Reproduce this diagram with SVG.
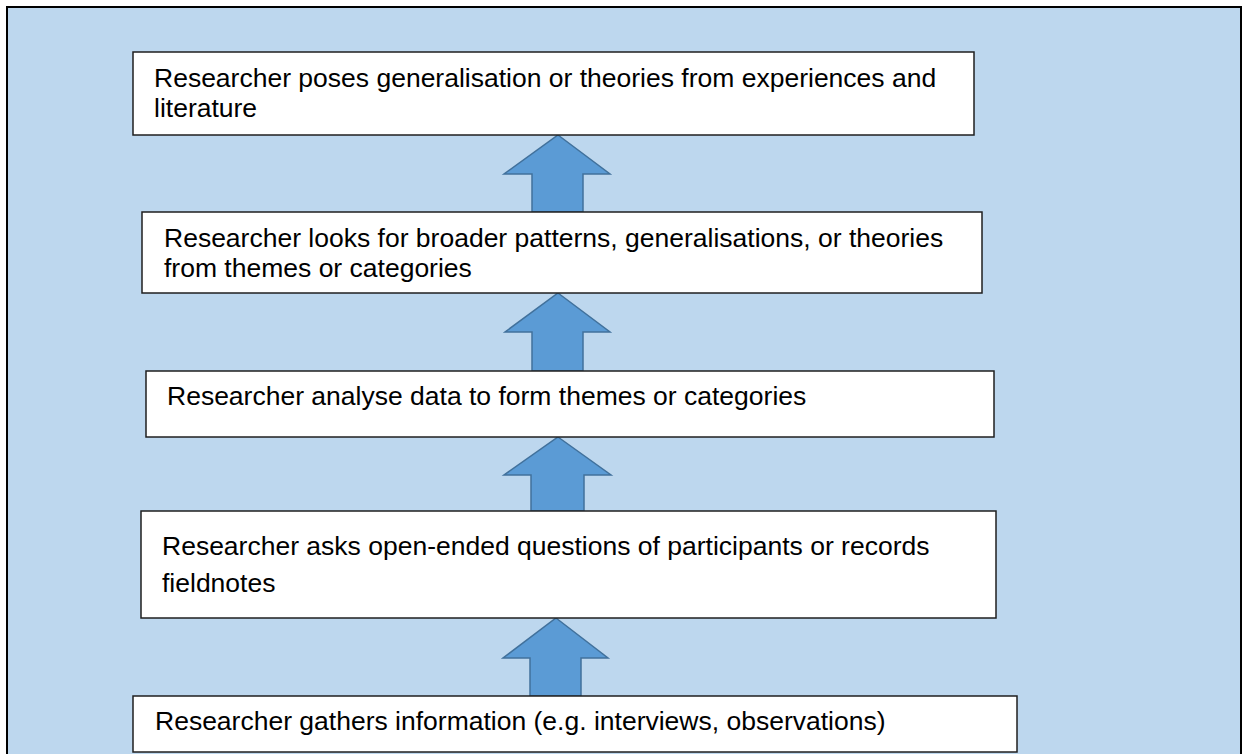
<svg xmlns="http://www.w3.org/2000/svg" width="1242" height="754" viewBox="0 0 1242 754">
<style>
.box{fill:#ffffff;stroke:#1f1f1f;stroke-width:1.5}
.arr{fill:#5B9BD5;stroke:#41719C;stroke-width:1.5;stroke-linejoin:miter}
.t{font-family:"Liberation Sans",Arial,sans-serif;font-size:26.5px;fill:#000}
</style>
<rect x="0" y="0" width="1242" height="754" fill="#ffffff"/>
<rect id="frame" x="7" y="7" width="1234" height="760" fill="#BDD7EE" stroke="#000" stroke-width="2"/>
<g id="connectors">
<polygon class="arr" points="558,135 610,174 583,174 583,212 532,212 532,174 504,174"/>
<polygon class="arr" points="558,293 610,332 583,332 583,371 532,371 532,332 505,332"/>
<polygon class="arr" points="558,437 611,475 584,475 584,511 531,511 531,475 504,475"/>
<polygon class="arr" points="556,618 608,658 581,658 581,696 530,696 530,658 503,658"/>
</g>
<g id="node1">
<rect class="box" x="133" y="52" width="841" height="83"/>
<text class="t" x="154" y="87">Researcher poses generalisation or theories from experiences and</text>
<text class="t" x="154" y="117">literature</text>
</g>
<g id="node2">
<rect class="box" x="142" y="212" width="840" height="81"/>
<text class="t" x="164" y="247">Researcher looks for broader patterns, generalisations, or theories</text>
<text class="t" x="164" y="277">from themes or categories</text>
</g>
<g id="node3">
<rect class="box" x="146" y="371" width="848" height="66"/>
<text class="t" x="167" y="405">Researcher analyse data to form themes or categories</text>
</g>
<g id="node4">
<rect class="box" x="141" y="511" width="855" height="107"/>
<text class="t" x="162" y="555">Researcher asks open-ended questions of participants or records</text>
<text class="t" x="162" y="592">fieldnotes</text>
</g>
<g id="node5">
<rect class="box" x="133" y="696" width="884" height="56"/>
<text class="t" x="155" y="730">Researcher gathers information (e.g. interviews, observations)</text>
</g>
</svg>
